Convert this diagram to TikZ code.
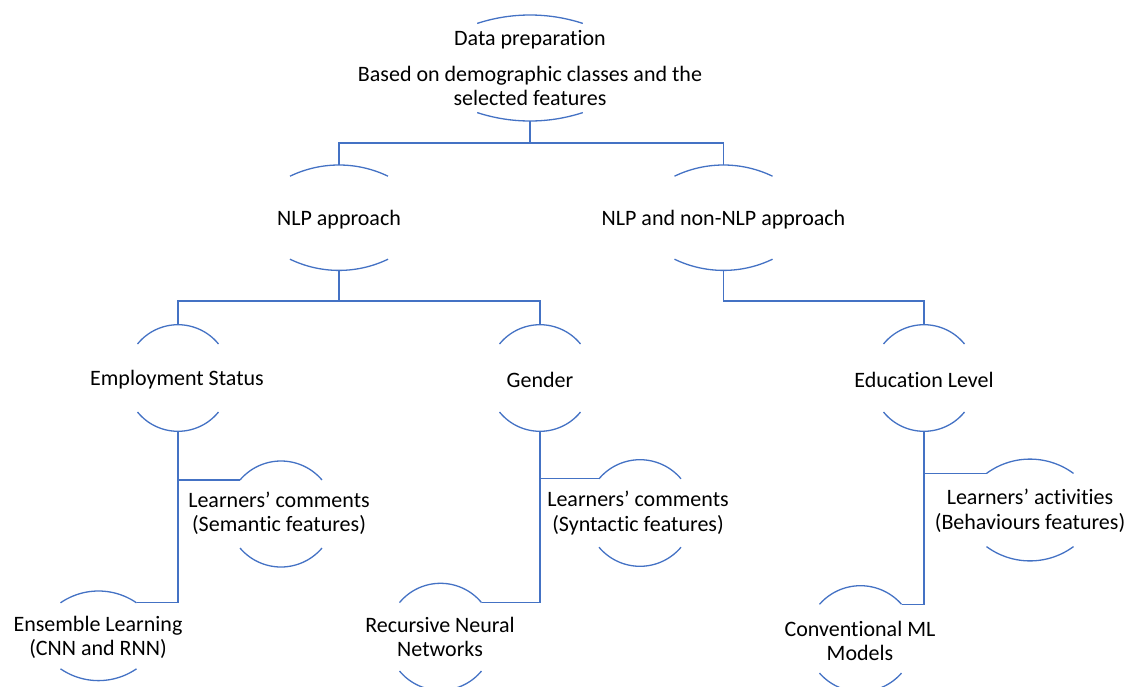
\documentclass[tikz,border=0pt]{standalone}
\usepackage{fontspec}
\setmainfont{Carlito}[Ligatures=NoCommon]
\definecolor{linkblue}{HTML}{4472C4}

% Pair of circular arcs (above and below a label).
% #1 name, #2 cx, #3 cy, #4 half chord, #5 chord-end offset, #6 apex offset
\newcommand\halfarcs[6]{%
  \pgfmathsetmacro\hsag{#6-#5}%
  \pgfmathsetmacro\hrad{(#4*#4+\hsag*\hsag)/(2*\hsag)}%
  \pgfmathsetmacro\hang{asin(#4/\hrad)}%
  \coordinate (#1-t)  at (#2,{#3-#6});
  \coordinate (#1-b)  at (#2,{#3+#6});
  \coordinate (#1-tl) at ({#2-#4},{#3-#5});
  \coordinate (#1-tr) at ({#2+#4},{#3-#5});
  \coordinate (#1-bl) at ({#2-#4},{#3+#5});
  \coordinate (#1-br) at ({#2+#4},{#3+#5});
  \draw[link] plot[domain=-\hang:\hang,samples=40,variable=\t]
    ({#2+\hrad*sin(\t)},{#3-#6+\hrad*(1-cos(\t))});
  \draw[link] plot[domain=-\hang:\hang,samples=40,variable=\t]
    ({#2+\hrad*sin(\t)},{#3+#6-\hrad*(1-cos(\t))});
}

\begin{document}
\begin{tikzpicture}[x=1pt,y=-1pt,
  link/.style={draw=linkblue,line width=1.3pt},
  txt/.style={align=center,inner sep=0pt,text=black,
              font=\fontsize{22}{24.5}\selectfont}]
\useasboundingbox (0,0) rectangle (1128,686);

% level 1
\halfarcs{dp}{530}{68}{52.8}{44.6}{53}
\node[txt] (dp) at (530,40) {Data preparation};
\node[txt] (dpsub) at (530,86) {Based on demographic classes and the\\selected features};

% level 2
\halfarcs{nlp}{339}{217.7}{49}{41.5}{52.7}
\node[txt] (nlp) at (339,220) {NLP approach};
\halfarcs{nn}{723.5}{217.7}{49}{41.5}{52.7}
\node[txt] (nn) at (723.5,220) {NLP and non-NLP approach};

% level 3
\halfarcs{emp}{178}{378}{40.5}{34}{53.3}
\node[txt] (emp) at (177,380) {Employment Status};
\halfarcs{gen}{540}{378}{40.5}{34}{53.3}
\node[txt] (gen) at (540,380) {Gender};
\halfarcs{edu}{924}{378}{40.5}{34}{53.3}
\node[txt] (edu) at (924,380) {Education Level};

% feature nodes
\halfarcs{sem}{281}{514}{41}{34}{53}
\node[txt] (sem) at (279,513.5) {Learners’ comments\\(Semantic features)};
\halfarcs{syn}{640}{513}{41}{34.2}{53.3}
\node[txt] (syn) at (638,513) {Learners’ comments\\(Syntactic features)};
\halfarcs{beh}{1030}{510}{43.5}{36.6}{50.9}
\node[txt] (beh) at (1030,511) {Learners’ activities\\(Behaviours features)};

% model nodes
\halfarcs{ens}{98.5}{635.8}{38}{33}{44.8}
\node[txt] (ens) at (98,637.5) {Ensemble Learning\\(CNN and RNN)};
\halfarcs{rec}{440.5}{636.8}{41}{34.2}{53.5}
\node[txt] (rec) at (440,637) {Recursive Neural\\Networks};
\halfarcs{con}{860.5}{638.7}{41}{34.4}{53}
\node[txt] (con) at (860,641) {Conventional ML\\Models};

% connectors
\coordinate (bus1) at (530,143);
\coordinate (bus2) at (339,301);
\coordinate (bus3) at (723.5,301);
\draw[link] (dp-b) -- (bus1) -| (nlp-t);
\draw[link] (bus1) -| (nn-t);
\draw[link] (nlp-b) -- (bus2) -| (emp-t);
\draw[link] (bus2) -| (gen-t);
\draw[link] (nn-b) -- (bus3) -| (edu-t);

\draw[link] (emp-b) |- (ens-tr);
\draw[link] (emp-b |- sem-tl) -- (sem-tl);
\draw[link] (gen-b) |- (rec-tr);
\draw[link] (gen-b |- syn-tl) -- (syn-tl);
\draw[link] (edu-b) |- (con-tr);
\draw[link] (edu-b |- beh-tl) -- (beh-tl);
\end{tikzpicture}
\end{document}
